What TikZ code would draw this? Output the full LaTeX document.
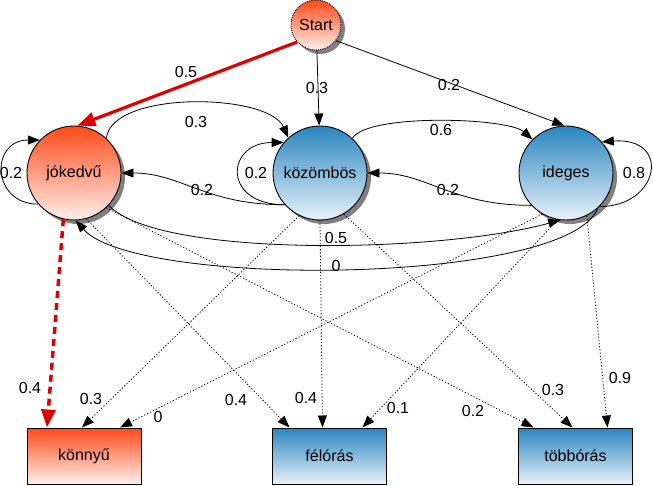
\documentclass[tikz,border=0pt]{standalone}
\usepackage{fontspec}
\setmainfont{Liberation Sans}
\usetikzlibrary{arrows.meta,shadows,calc}
\definecolor{redtop}{HTML}{FF4A1A}
\definecolor{redbot}{HTML}{FFF0EC}
\definecolor{bluetop}{HTML}{2A85BE}
\definecolor{bluebot}{HTML}{E8F2FA}
\definecolor{shadowgray}{HTML}{808080}
\definecolor{edgered}{HTML}{E00000}
\begin{document}
\begin{tikzpicture}[x=1pt,y=-1pt,
  font=\fontsize{16}{19}\selectfont,
  state/.style={circle, draw=black, line width=0.9pt, minimum size=94pt, inner sep=0pt,
    drop shadow={shadow xshift=4pt, shadow yshift=-4pt, fill=shadowgray, opacity=1}},
  redfill/.style={top color=redtop, bottom color=redbot},
  bluefill/.style={top color=bluetop, bottom color=bluebot},
  outbox/.style={rectangle, draw=black, line width=1pt, minimum width=114pt, minimum height=56pt, inner sep=0pt},
  edge/.style={draw=black, line width=0.8pt, -{Triangle[length=12pt,width=9pt]}},
  dotedge/.style={edge, dash pattern=on 1.2pt off 2pt},
  rededge/.style={draw=edgered, line width=3.2pt, -{Triangle[length=18pt,width=14pt]}},
  reddash/.style={draw=edgered, line width=3.5pt, dash pattern=on 7pt off 5pt, -{Triangle[length=18pt,width=14pt]}},
  prob/.style={inner sep=0pt}]
\useasboundingbox (0,0) rectangle (653,486);

% states
\node[state, redfill, minimum size=50pt, densely dotted] (start) at (316,25) {Start};
\node[state, redfill] (jok) at (74,173) {jókedvű};
\node[state, bluefill] (koz) at (320,173) {közömbös};
\node[state, bluefill] (ide) at (566,173) {ideges};

% outputs
\node[outbox, redfill] (kon) at (84,456) {könnyű};
\node[outbox, bluefill] (fel) at (329.5,456) {félórás};
\node[outbox, bluefill] (tob) at (575.5,456) {többórás};

% start transitions
\draw[rededge] (start.222) -- (jok.86);
\draw[edge] (start.-88) -- (koz.91);
\draw[edge] (start.-38) -- (ide.92);

% transitions between states
\draw[edge] (jok.47) .. controls +(5,-48) and +(-20,-45) .. (koz.132);
\draw[edge] (koz.47) .. controls +(15,-25) and +(-25,-22) .. (ide.135);
\draw[edge] (koz.222) .. controls +(-80,0) and +(60,0) .. (jok.0);
\draw[edge] (ide.223) .. controls +(-80,0) and +(60,0) .. (koz.0);
\draw[edge] (jok.221) .. controls +(-47,0) and +(-50,0) .. (jok.136);
\draw[edge] (koz.222) .. controls +(-63,0) and +(-58,0) .. (koz.140);
\draw[edge] (ide.-45) .. controls +(60,0) and +(70,-5) .. (ide.41);
\draw[edge] (jok.-43) .. controls +(50,53) and +(-120,33) .. (ide.-97);
\draw[edge] (ide.-48) .. controls +(-30,77) and +(60,68) .. (jok.-88);

% emissions
\draw[reddash] (jok.-103) -- ($(kon.north)+(-37,0)$);
\draw[dotedge] (jok.-75) -- ($(fel.north)+(-40,0)$);
\draw[dotedge] (jok.-47) -- ($(tob.north)+(-42,0)$);
\draw[dotedge] (koz.-116) -- ($(kon.north)+(-2,0)$);
\draw[dotedge] (koz.-90) -- ($(fel.north)+(-7,0)$);
\draw[dotedge] (koz.-60) -- ($(tob.north)+(-3,0)$);
\draw[dotedge] (ide.-120) -- ($(kon.north)+(36,0)$);
\draw[dotedge] (ide.-100) -- ($(fel.north)+(33,0)$);
\draw[dotedge] (ide.-64) -- ($(tob.north)+(32,0)$);

% probabilities
\node[prob] (p1) at (186,72) {0.5};
\node[prob] (p2) at (317,88) {0.3};
\node[prob] (p3) at (449,85) {0.2};
\node[prob] (p4) at (196,122) {0.3};
\node[prob] (p5) at (441,130) {0.6};
\node[prob] (p6) at (11,173) {0.2};
\node[prob] (p7) at (256,173) {0.2};
\node[prob] (p8) at (634,173) {0.8};
\node[prob] (p9) at (202,190) {0.2};
\node[prob] (p10) at (448,190) {0.2};
\node[prob] (p11) at (336,238) {0.5};
\node[prob] (p12) at (336,266) {0};
\node[prob] (p13) at (30,388) {0.4};
\node[prob] (p14) at (91,399) {0.3};
\node[prob] (p15) at (158,417) {0};
\node[prob] (p16) at (236,400) {0.4};
\node[prob] (p17) at (306,398) {0.4};
\node[prob] (p18) at (398,408) {0.1};
\node[prob] (p19) at (473,411) {0.2};
\node[prob] (p20) at (553,390) {0.3};
\node[prob] (p21) at (620,378) {0.9};
\end{tikzpicture}
\end{document}
